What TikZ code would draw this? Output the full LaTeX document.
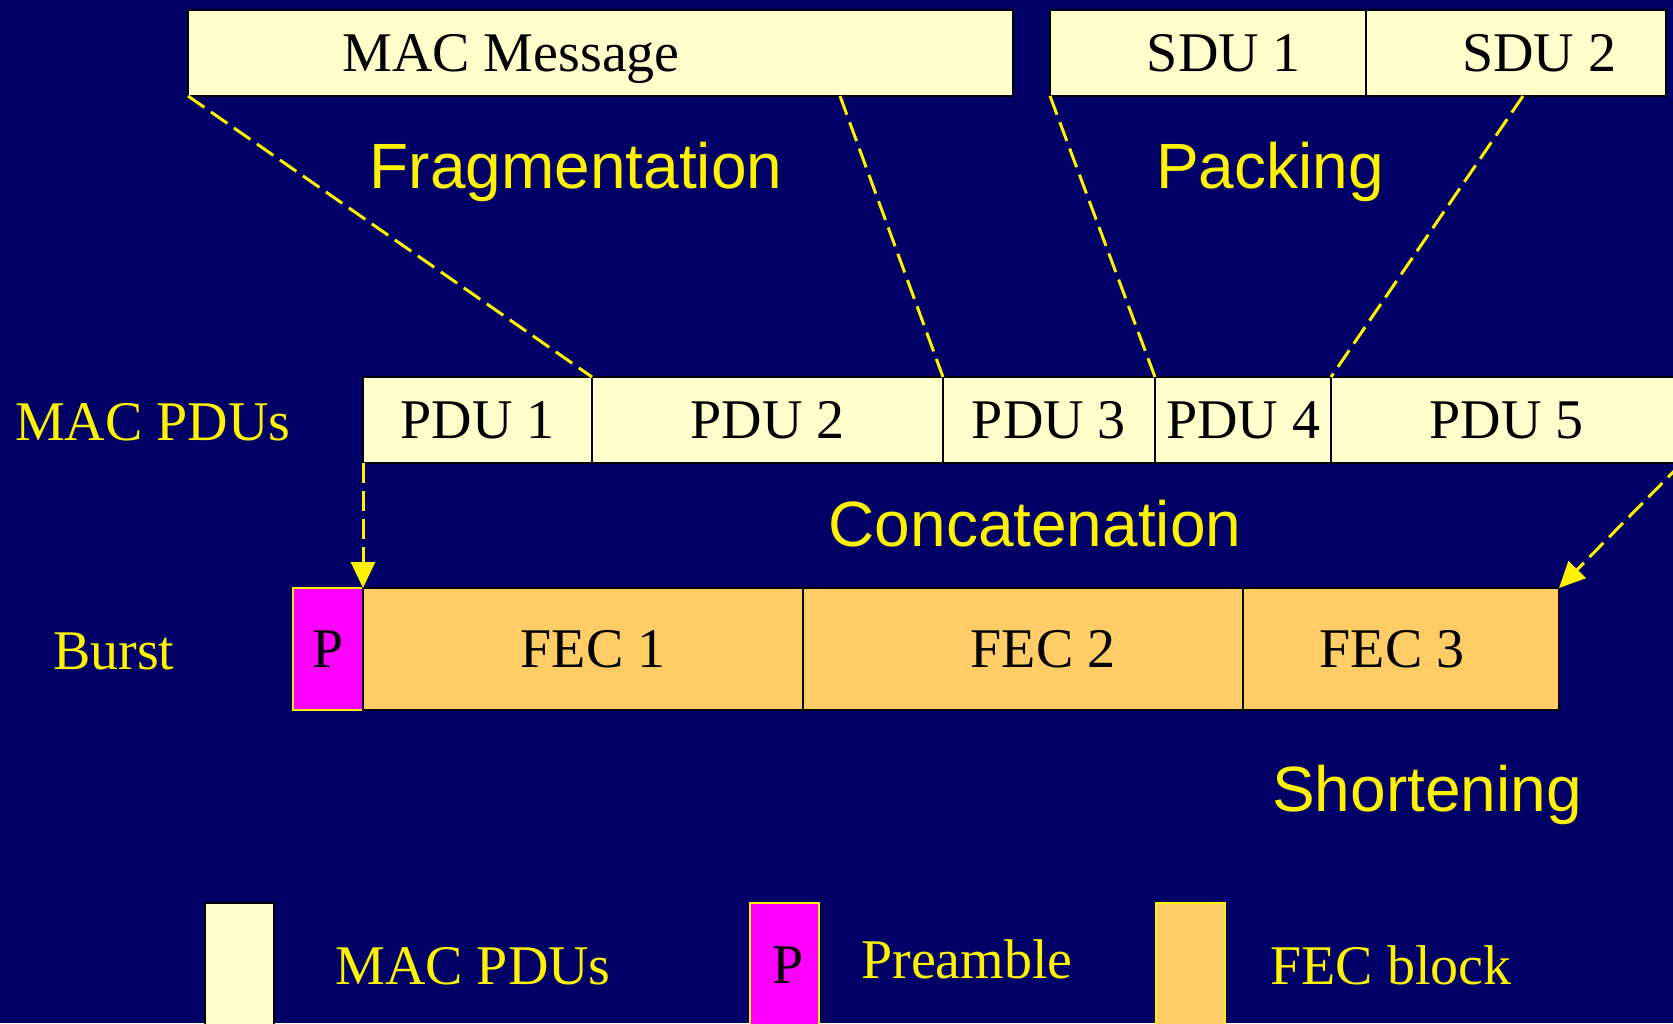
\documentclass[tikz,border=0pt]{standalone}
\usepackage{fontspec}
\setmainfont{Liberation Serif}
\newfontfamily\labelfont{Liberation Sans}
\usetikzlibrary{arrows.meta, positioning}

\definecolor{navy}{RGB}{0,0,102}
\definecolor{cream}{RGB}{255,255,204}
\definecolor{fecorange}{RGB}{255,204,102}
\definecolor{pmagenta}{RGB}{255,0,255}

\begin{document}
\begin{tikzpicture}[x=1pt, y=-1pt,
    box/.style={draw=black, line width=1.5pt, inner sep=0pt, outer sep=0pt, minimum height=86pt,
      font=\fontsize{56}{60}\selectfont, text height=37pt, text depth=0pt},
    pdubox/.style={box, fill=cream},
    fecbox/.style={box, fill=fecorange, minimum height=122pt},
    prebox/.style={box, draw=yellow, fill=pmagenta, minimum height=122pt},
    keybox/.style={box, minimum width=69pt, minimum height=130pt, anchor=north west},
    rowlabel/.style={text=yellow, inner sep=0pt, anchor=base west, font=\fontsize{56}{60}\selectfont},
    keylabel/.style={rowlabel, anchor=base},
    steplabel/.style={text=yellow, inner sep=0pt, anchor=base, font=\labelfont\fontsize{64}{70}\selectfont},
    link/.style={draw=yellow, line width=3pt, dash pattern=on 20pt off 8pt},
    linkarrow/.style={link, -{Triangle[length=26pt, width=24pt]}}]

  % background
  \fill[navy] (0,0) rectangle (1673,1023);
  \useasboundingbox (0,0) rectangle (1673,1023);
  \clip (0,0) rectangle (1673,1023);

  % MAC message and SDUs
  \node[pdubox, minimum width=825pt, anchor=north west] (msg) at (188,10) {};
  \node[box, draw=none] (msgtext) at (511,53) {MAC Message};
  \node[pdubox, minimum width=316pt, anchor=north west] (sdu1) at (1050,10) {\hspace*{32pt}SDU 1};
  \node[pdubox, minimum width=300pt, right=0pt of sdu1] (sdu2) {\hspace*{46pt}SDU 2};

  % MAC PDUs
  \node[pdubox, minimum width=229pt, anchor=north west] (pdu1) at (363,377) {PDU 1};
  \node[pdubox, minimum width=351pt, right=0pt of pdu1] (pdu2) {PDU 2};
  \node[pdubox, minimum width=212pt, right=0pt of pdu2] (pdu3) {PDU 3};
  \node[pdubox, minimum width=176pt, right=0pt of pdu3] (pdu4) {PDU 4};
  \node[pdubox, minimum width=351pt, right=0pt of pdu4] (pdu5) {PDU 5};

  % burst
  \node[prebox, minimum width=70pt, anchor=north west] (pre) at (293,588) {P};
  \node[fecbox, minimum width=440pt, right=0pt of pre] (fec1) {\hspace*{20pt}FEC 1};
  \node[fecbox, minimum width=440pt, right=0pt of fec1] (fec2) {\hspace*{40pt}FEC 2};
  \node[fecbox, minimum width=316pt, right=0pt of fec2] (fec3) {\hspace*{-18pt}FEC 3};

  % row labels
  \node[rowlabel] (pdulabel) at (15,440) {MAC PDUs};
  \node[rowlabel] (burstlabel) at (53,669) {Burst};

  % operation labels
  \node[steplabel] (frag) at (576,188) {Fragmentation};
  \node[steplabel] (pack) at (1270,188) {Packing};
  \node[steplabel] (concat) at (1035,546) {Concatenation};
  \node[steplabel] (short) at (1427,811) {Shortening};

  % fragmentation and packing
  \coordinate (msgcut) at (840,96);
  \coordinate (sducut) at (1523,96);
  \draw[link] (msg.south west) -- (pdu1.north east);
  \draw[link] (msgcut) -- (pdu2.north east);
  \draw[link] (sdu1.south west) -- (pdu3.north east);
  \draw[link] (sducut) -- (pdu4.north east);

  % concatenation into the burst
  \draw[linkarrow] (pdu1.south west) -- (pre.north east);
  \draw[linkarrow] (pdu5.south east) -- (fec3.north east);

  % legend
  \node[keybox, fill=cream] (keypdu) at (205,903) {};
  \node[keybox, draw=yellow, fill=pmagenta] (keypre) at (750,903) {};
  \node[keybox, draw=yellow, fill=fecorange] (keyfec) at (1156,903) {};
  \node[keylabel, text=black] (keyp) at (788,983) {P};
  \node[keylabel] (keypdutext) at (473,984) {MAC PDUs};
  \node[keylabel] (keypretext) at (967,978) {Preamble};
  \node[keylabel] (keyfectext) at (1391,984) {FEC block};
\end{tikzpicture}
\end{document}
